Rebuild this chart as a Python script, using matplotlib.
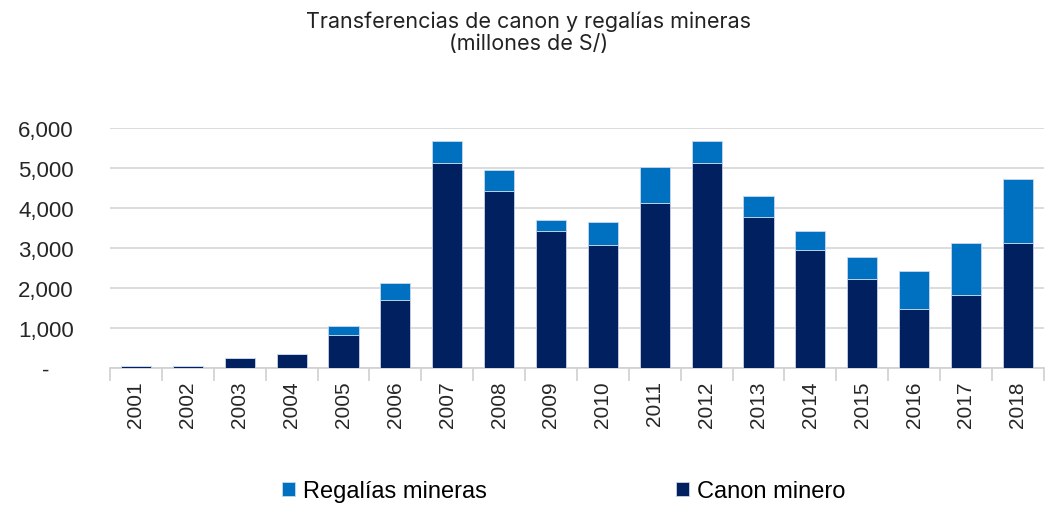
import numpy as np
import matplotlib.pyplot as plt
from matplotlib.ticker import FuncFormatter, FixedLocator

# Datos (millones de S/)
anios = ["2001", "2002", "2003", "2004", "2005", "2006", "2007", "2008", "2009",
         "2010", "2011", "2012", "2013", "2014", "2015", "2016", "2017", "2018"]
canon_minero = [60, 60, 245, 360, 830, 1710, 5130, 4430, 3420,
                3080, 4120, 5130, 3770, 2945, 2235, 1477, 1835, 3130]
regalias_mineras = [0, 0, 0, 0, 230, 420, 535, 525, 292,
                    575, 895, 535, 535, 475, 545, 943, 1295, 1593]

COLOR_CANON = "#002060"
COLOR_REGALIAS = "#0070C0"
FUENTE = ["Liberation Sans", "DejaVu Sans"]

fig = plt.figure(figsize=(10.48, 5.10), dpi=100)
ax = fig.add_axes([0.105, 0.2765, 0.891, 0.4706])

x = np.arange(len(anios))
ax.bar(x, canon_minero, width=0.58, color=COLOR_CANON, edgecolor="#c8d3e6",
       linewidth=0.6, label="Canon minero", zorder=3)
ax.bar(x, regalias_mineras, width=0.58, bottom=canon_minero, color=COLOR_REGALIAS,
       edgecolor="#c8d8ee", linewidth=0.6, label="Regalías mineras", zorder=3)

ax.set_xlim(-0.5, len(anios) - 0.5)
ax.set_ylim(0, 6000)
ax.set_yticks(np.arange(0, 6001, 1000))
# Excel muestra el cero como un guion
ax.yaxis.set_major_formatter(FuncFormatter(lambda v, p: "-    " if v == 0 else f"{int(v):,}"))
ax.grid(axis="y", color="#d9d9d9", linewidth=1.3, zorder=0)

ax.set_xticks(x)
ax.set_xticklabels(anios, rotation=90)
ax.xaxis.set_minor_locator(FixedLocator(np.arange(-0.5, len(anios), 1)))
ax.tick_params(axis="x", which="major", length=0, pad=9)
ax.tick_params(axis="x", which="minor", length=9, color="#d0d0d0", width=1.2)
ax.tick_params(axis="y", length=0, pad=26)

for lab in ax.get_xticklabels():
    lab.set_family(FUENTE)
    lab.set_fontsize(15)
    lab.set_color("#262626")
for lab in ax.get_yticklabels():
    lab.set_family(FUENTE)
    lab.set_fontsize(16)
    lab.set_color("#262626")

for s in ["top", "right", "left"]:
    ax.spines[s].set_visible(False)
ax.spines["bottom"].set_color("#d0d0d0")
ax.spines["bottom"].set_linewidth(1.2)

fig.text(0.504, 0.978, "Transferencias de canon y regalías mineras\n(millones de S/)",
         ha="center", va="top", fontsize=15.5, family=["Inter", "DejaVu Sans"],
         color="#222222", linespacing=1.15)

handles, labels = ax.get_legend_handles_labels()
leg = fig.legend(handles[::-1], labels[::-1], loc="center", bbox_to_anchor=(0.538, 0.035),
                 ncol=2, frameon=False, handlelength=0.55, handleheight=0.55,
                 handletextpad=0.35, columnspacing=8.0,
                 prop={"family": FUENTE, "size": 17})

fig.savefig("out.png", dpi=100)
